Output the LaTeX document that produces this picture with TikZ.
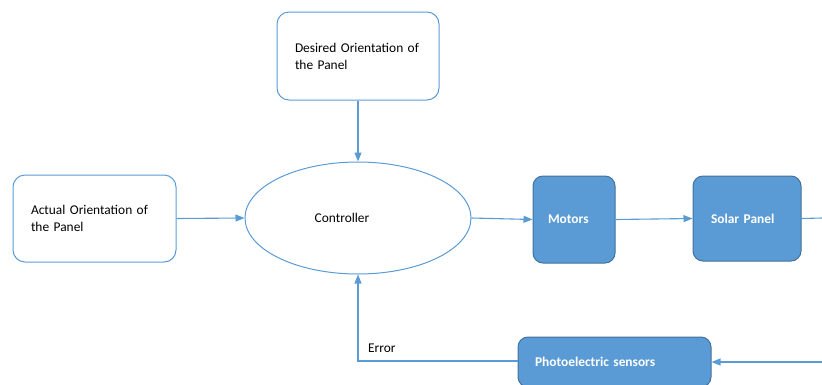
\documentclass[tikz,border=0pt]{standalone}
\usepackage{fontspec}
\setmainfont{Carlito}
\usetikzlibrary{shapes.geometric,arrows.meta}
\definecolor{lnblue}{HTML}{5B9BD5}
\definecolor{fillblue}{HTML}{5B9BD5}
\definecolor{darkblue}{HTML}{41719C}
\tikzset{
  whitebox/.style={draw=lnblue, line width=1pt, rounded corners=12pt, fill=white, align=left, inner sep=0pt, font=\fontsize{13.4}{17}\selectfont},
  bluebox/.style={draw=darkblue, line width=1pt, rounded corners=10pt, fill=fillblue, text=white, font=\fontsize{13.4}{16}\selectfont\bfseries, inner sep=0pt},
  conn/.style={draw=lnblue, line width=1.1pt},
  arr/.style={conn, -{Triangle[length=9pt,width=7pt]}},
  lbl/.style={font=\fontsize{13.4}{16}\selectfont, inner sep=0pt}
}
\begin{document}
\begin{tikzpicture}[x=1pt,y=-1pt]
\useasboundingbox (0,0) rectangle (822,384);
\node[whitebox, minimum width=162pt, minimum height=88pt, text width=126pt] (desired) at (358,56) {Desired Orientation of\\the Panel};
\node[whitebox, minimum width=163pt, minimum height=87pt, text width=127pt] (actual) at (94.5,218.5) {Actual Orientation of\\the Panel};
\node[draw=lnblue, line width=1pt, ellipse, minimum width=226pt, minimum height=112pt, inner sep=0pt] (ctrl) at (358,218) {};
\node[lbl] (ctrltext) at (342,218) {Controller};
\node[bluebox, minimum width=82pt, minimum height=87pt, align=left, text width=52pt] (motors) at (574,219.5) {Motors};
\node[bluebox, minimum width=108pt, minimum height=85pt, align=left, text width=72pt] (solar) at (747,218.5) {Solar Panel};
\node[bluebox, minimum width=193pt, minimum height=50pt, text width=159pt, align=left] (photo) at (614.5,362) {Photoelectric sensors};
\coordinate (rtop) at (822,218);
\coordinate (rbot) at (822,362);
\coordinate (corner) at (358,361);
\node[lbl, anchor=west] (err) at (368,348) {Error};
\draw[arr] (desired.south) -- (ctrl.north);
\draw[arr] (actual.east) -- (ctrl.west);
\draw[arr] (ctrl.east) -- (motors.west);
\draw[arr] (motors.east) -- (solar.west);
\draw[conn] (solar.east) -- (rtop);
\draw[arr] (rbot) -- (photo.east);
\draw[arr] (photo.west |- corner) -- (corner) -- (ctrl.south);
\end{tikzpicture}
\end{document}
